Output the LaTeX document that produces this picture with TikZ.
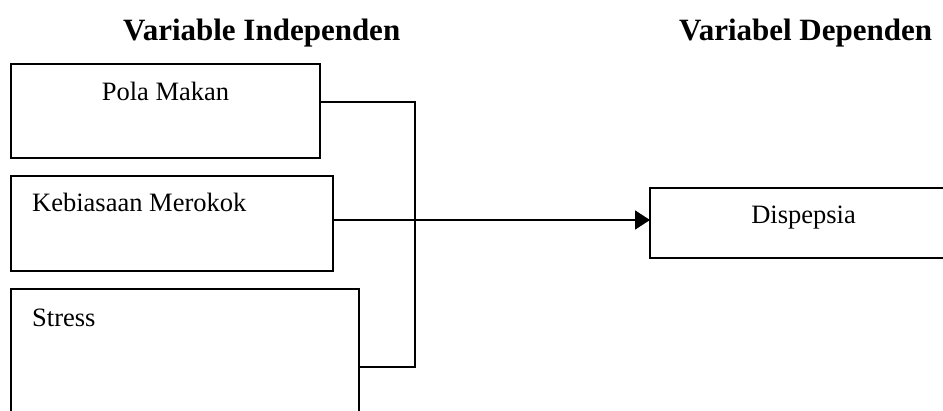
\documentclass[tikz,border=0pt]{standalone}
\usepackage{fontspec}
\setmainfont{Liberation Serif}
\usetikzlibrary{arrows.meta}
\begin{document}
\begin{tikzpicture}[x=1pt,y=-1pt,
  box/.style={draw=black,line width=1.4pt,rectangle,inner sep=0,outer sep=0,anchor=north west},
  label text/.style={inner sep=0,font=\fontsize{26.5}{30}\selectfont},
  head text/.style={inner sep=0,anchor=base west,font=\fontsize{31}{36}\selectfont\bfseries},
  link/.style={line width=1.8pt},
]
\clip (0,0) rectangle (943,410);
\fill[white] (0,0) rectangle (943,410);

% headings
\node[head text] (hIndep) at (123,40) {Variable Independen};
\node[head text] (hDep) at (679,40) {Variabel Dependen};

% independent variables
\node[box,line width=1.8pt,minimum width=309,minimum height=94] (pola) at (11,64) {};
\node[box,minimum width=322,minimum height=95] (merokok) at (11,176) {};
\node[box,minimum width=348,minimum height=160] (stress) at (11,289) {};

\node[label text,anchor=base] (tPola) at (165.5,100) {Pola Makan};
\node[label text,anchor=base west] (tMerokok) at (32,211) {Kebiasaan Merokok};
\node[label text,anchor=base west] (tStress) at (32,326) {Stress};

% dependent variable
\node[box,minimum width=320,minimum height=70] (dis) at (650,188) {};
\node[label text,anchor=base] (tDis) at (803.5,223) {Dispepsia};

% connectors
\coordinate (jTop) at (415,102);
\coordinate (jBot) at (415,367);
\coordinate (jMid) at (0,220);
\draw[link] (pola.east |- jTop) -- (jTop) -- (jBot) -- (stress.east |- jBot);
\draw[link,-{Triangle[length=15pt,width=19pt]}] (merokok.east |- jMid) -- (dis.west |- jMid);
\end{tikzpicture}
\end{document}
